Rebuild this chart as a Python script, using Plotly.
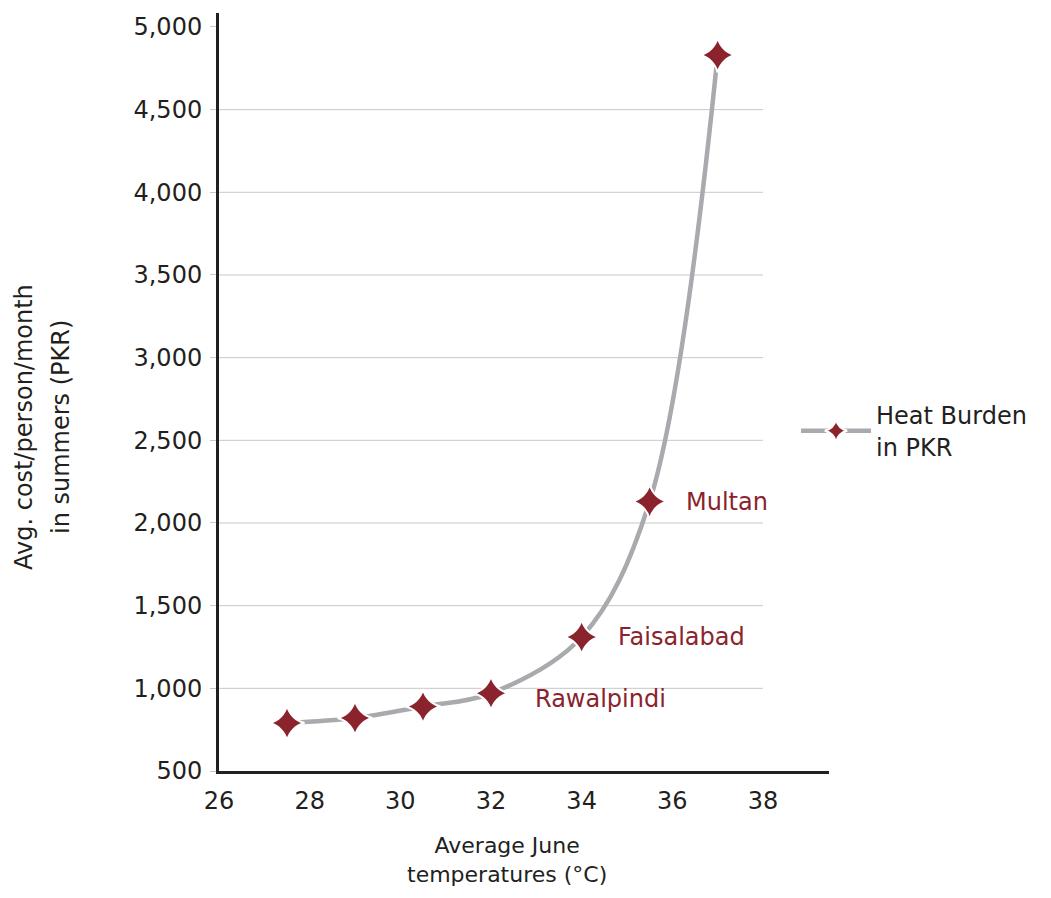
import plotly.graph_objects as go

temps = [27.5, 29.0, 30.5, 32.0, 34.0, 35.5, 37.0]
costs = [790, 820, 890, 970, 1310, 2130, 4830]
city_names = ["Rawalpindi", "Faisalabad", "Multan"]
city_temps = [32.0, 34.0, 35.5]
city_costs = [970, 1310, 2130]
y_ticks = [500, 1000, 1500, 2000, 2500, 3000, 3500, 4000, 4500, 5000]
x_ticks = [26, 28, 30, 32, 34, 36, 38]
grid_vals = [1000, 1500, 2000, 2500, 3000, 3500, 4000, 4500]
x_title = "Average June<br>temperatures (°C)"
y_title_lines = ["Avg. cost/person/month", "in summers (PKR)"]

FONT = "DejaVu Sans"
RED = "#8b232d"
GREY = "#a9aaae"
TXT = "#231f20"
FS = 24

fig = go.Figure()
fig.add_trace(go.Scatter(
    x=temps, y=costs, mode="lines+markers", name="Heat Burden<br>in PKR",
    line=dict(color=GREY, width=4.5, shape="spline", smoothing=1.0),
    marker=dict(symbol="star-diamond", size=25, color=RED,
                line=dict(color="white", width=2)),
))

shapes = []
for g in grid_vals:
    shapes.append(dict(type="line", xref="x", yref="y", x0=26, x1=38, y0=g, y1=g,
                       line=dict(color="#c8c8ca", width=1), layer="below"))

annotations = []
offsets = {"Rawalpindi": (0.92, -36), "Faisalabad": (0.75, 0), "Multan": (0.75, 0)}
for n, t, c in zip(city_names, city_temps, city_costs):
    dx, dy = offsets[n]
    annotations.append(dict(x=t + dx, y=c + dy, xref="x", yref="y", text=n,
                            showarrow=False, xanchor="left", yanchor="middle",
                            font=dict(family=FONT, size=FS, color=RED)))

# page body has an 8px margin
OFF = 8
W, H = 1051 - 2 * OFF, 898 - 2 * OFF
L, T = 219 - OFF, 13 - OFF
R = W - (829 - OFF)
B = H - (771 - OFF)
pw, ph = W - L - R, H - T - B

def px(xabs, yabs):
    return ((xabs - OFF - L) / pw, (H - B - (yabs - OFF)) / ph)

ax, ay = px(507, 860)
annotations.append(dict(x=ax, y=ay, xref="paper", yref="paper", text=x_title,
                        showarrow=False, xanchor="center", yanchor="middle",
                        font=dict(family=FONT, size=22, color=TXT)))
for line_text, xpos in zip(y_title_lines, [24, 61]):
    ax, ay = px(xpos, 427)
    annotations.append(dict(x=ax, y=ay, xref="paper", yref="paper", text=line_text,
                            showarrow=False, textangle=-90, xanchor="center", yanchor="middle",
                            font=dict(family=FONT, size=FS, color=TXT)))

lx, ly = px(796, 431)

fig.update_layout(
    width=W, height=H,
    margin=dict(l=L, r=R, t=T, b=B),
    paper_bgcolor="white", plot_bgcolor="white",
    font=dict(family=FONT, size=FS, color=TXT),
    shapes=shapes, annotations=annotations,
    showlegend=True,
    legend=dict(x=lx, y=ly, xanchor="left", yanchor="middle",
                itemwidth=70, font=dict(family=FONT, size=FS, color=TXT),
                bgcolor="rgba(0,0,0,0)"),
    xaxis=dict(range=[26, 26 + (829 - 219) / 45.33], tickvals=x_ticks,
               showgrid=False, zeroline=False, showline=True, linecolor=TXT,
               linewidth=3, ticks="", tickfont=dict(size=FS), automargin=False,
               ticklabelstandoff=6),
    yaxis=dict(range=[500, 500 + (771 - 13) / 82.67 * 500], tickvals=y_ticks,
               tickformat=",d", showgrid=False, zeroline=False, showline=True,
               linecolor=TXT, linewidth=3, ticks="outside", ticklen=6,
               tickcolor="#c8c8ca", tickwidth=1, tickfont=dict(size=FS), automargin=False,
               ticklabelstandoff=3),
)

fig.write_html("out.html")
